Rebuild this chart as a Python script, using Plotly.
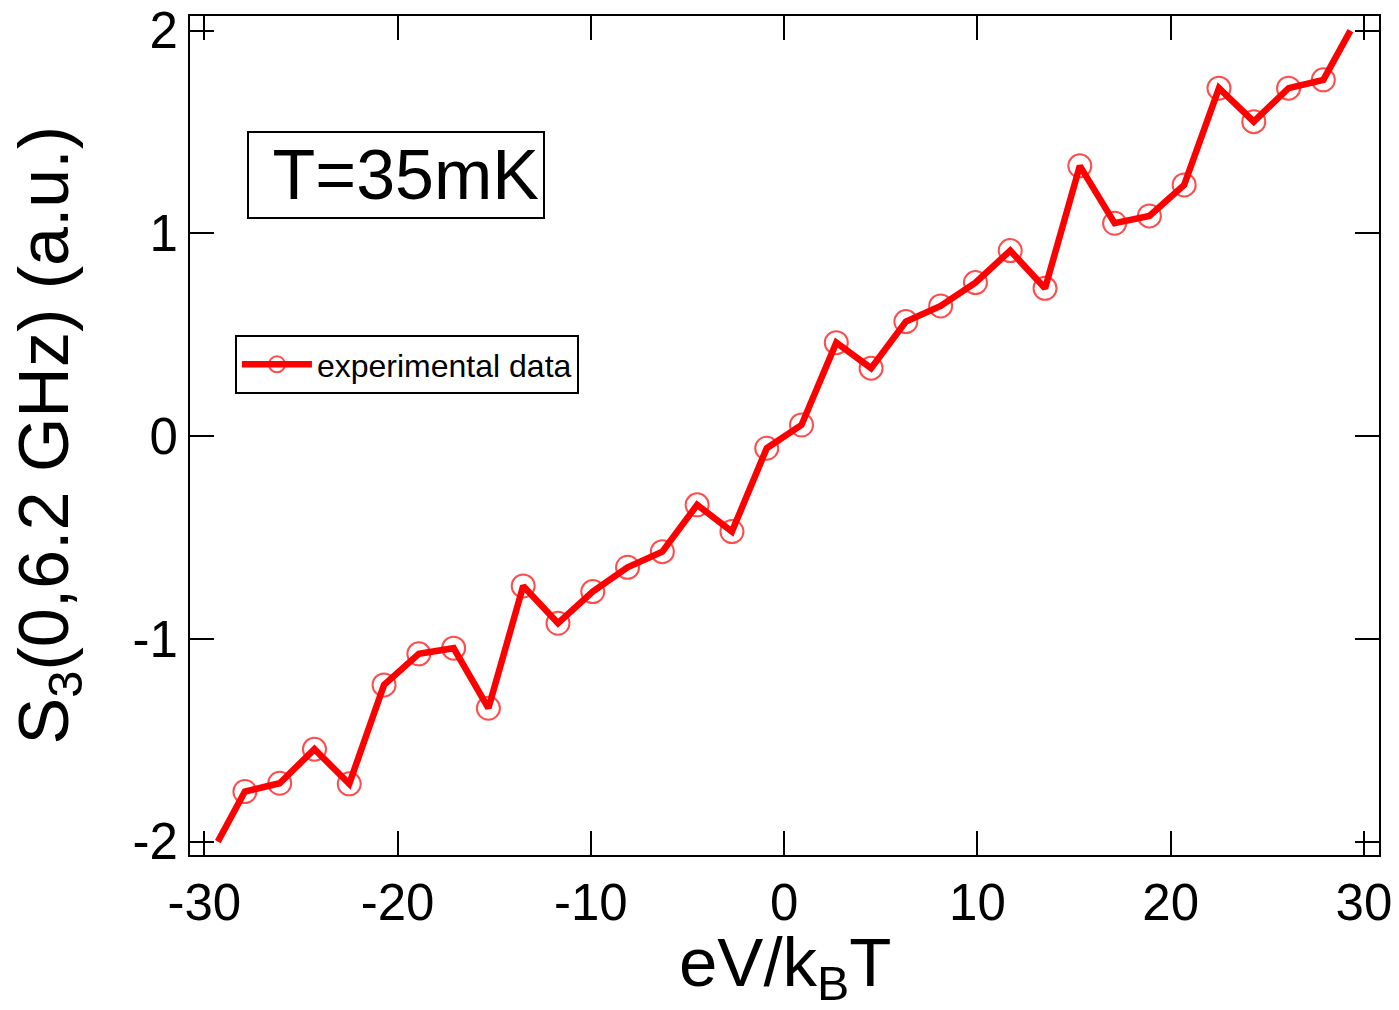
import plotly.graph_objects as go

# eV/kBT values
x_vals = [-29.3, -27.9, -26.1, -24.3, -22.5, -20.7, -18.9, -17.1, -15.3, -13.5,
          -11.7, -9.9, -8.1, -6.3, -4.5, -2.7, -0.9, 0.9, 2.7, 4.5,
          6.3, 8.1, 9.9, 11.7, 13.5, 15.3, 17.1, 18.9, 20.7, 22.5,
          24.3, 26.1, 27.9, 29.3]
# S3 (a.u.)
y_vals = [-2.00, -1.753, -1.712, -1.544, -1.715, -1.227, -1.074, -1.046, -1.342, -0.739,
          -0.923, -0.767, -0.647, -0.570, -0.339, -0.471, -0.060, 0.055, 0.461, 0.335,
          0.565, 0.642, 0.757, 0.915, 0.729, 1.333, 1.050, 1.086, 1.239, 1.716,
          1.551, 1.716, 1.757, 2.00]
# endpoints of the curve carry no marker
marker_sizes = [0] + [23] * (len(x_vals) - 2) + [0]

x_ticks = [-30, -20, -10, 0, 10, 20, 30]
y_ticks = [-2, -1, 0, 1, 2]

FONT = "Liberation Sans, Arial, sans-serif"

W, H = 1399, 1010
ML, MR, MT, MB = 190, 20, 16, 155

fig = go.Figure()
fig.add_trace(go.Scatter(
    x=x_vals, y=y_vals, mode="lines+markers",
    name="experimental data",
    line=dict(color="#ff0000", width=6.5),
    marker=dict(symbol="circle-open", size=marker_sizes, color="#ff0000",
                line=dict(color="#ff0000", width=2)),
))

axis_common = dict(
    showline=True, linecolor="black", linewidth=2, mirror="ticks",
    ticks="inside", ticklen=24, tickwidth=2, tickcolor="black",
    showgrid=False, zeroline=False, ticklabeloverflow="allow",
    tickfont=dict(family=FONT, size=51, color="black"),
)

fig.update_xaxes(
    range=[-30.74, 30.78], tickvals=x_ticks, ticktext=[str(v) for v in x_ticks],
    ticklabelstandoff=2,
    **axis_common,
)
fig.update_yaxes(
    range=[-2.066, 2.072], tickvals=y_ticks, ticktext=[str(v) for v in y_ticks],
    ticklabelstandoff=0,
    **axis_common,
)

# axis titles
fig.add_annotation(
    xref="paper", yref="paper", x=0.5, y=0, xanchor="center", yanchor="top",
    yshift=-69, showarrow=False, borderpad=0, borderwidth=0,
    text="eV/k<sub>B</sub>T", font=dict(family=FONT, size=69, color="black"),
)
fig.add_annotation(
    xref="paper", yref="paper", x=0, y=0.5, xanchor="center", yanchor="middle",
    xshift=-142, showarrow=False, borderpad=0, borderwidth=0, textangle=-90,
    text="S<sub>3</sub>(0,6.2 GHz) (a.u.)", font=dict(family=FONT, size=70, color="black"),
)

fig.add_annotation(
    xref="paper", yref="paper", x=0.1733, y=0.8099, xanchor="center", yanchor="middle",
    text="T=35mK", showarrow=False,
    font=dict(family=FONT, size=70, color="black"),
    width=286, height=76, align="right",
    bordercolor="black", borderwidth=2, borderpad=4, bgcolor="white",
)

fig.update_layout(
    width=W, height=H,
    margin=dict(l=ML, r=MR, t=MT, b=MB, autoexpand=False),
    paper_bgcolor="white", plot_bgcolor="white",
    font=dict(family=FONT, color="black"),
    showlegend=True,
    legend=dict(
        x=0.0378, y=0.6198, xanchor="left", yanchor="top",
        bordercolor="black", borderwidth=2, bgcolor="white",
        font=dict(family=FONT, size=32, color="black"),
        itemwidth=70,
    ),
)

fig.write_html(
    "out.html",
    config={"displayModeBar": False},
    post_script="document.body.style.margin='0';document.body.style.overflow='hidden';",
)
